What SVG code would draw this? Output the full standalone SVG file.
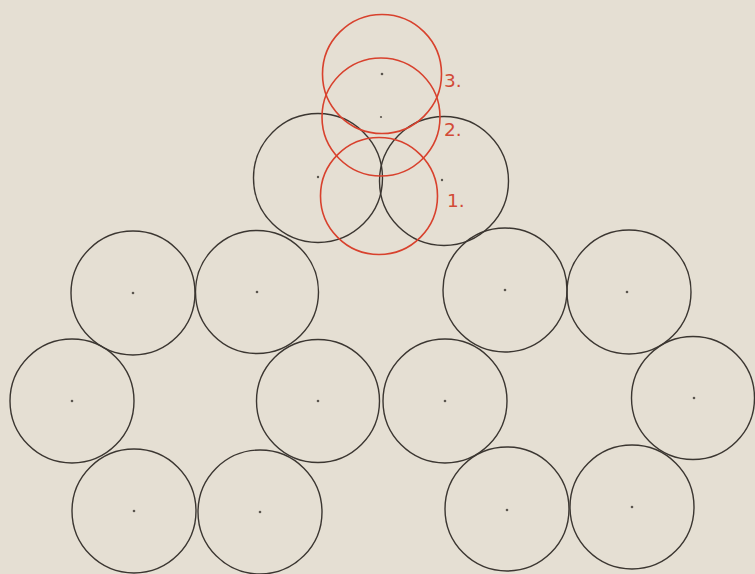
<svg xmlns="http://www.w3.org/2000/svg" width="755" height="574" viewBox="0 0 755 574">
<style>
.bk{fill:none;stroke:#3b3631;stroke-width:1.4}
.rd{fill:none;stroke:#d8412d;stroke-width:1.6}
.dot{fill:#5a554e}
.lbl{font-family:"DejaVu Sans","Liberation Sans",sans-serif;font-size:18.5px;fill:#d24a37}
</style>
<rect width="755" height="574" fill="#e5dfd3"/>
<g id="left-group">
<g id="L1"><circle class="bk" cx="133" cy="293" r="62"/><circle class="dot" cx="133" cy="293" r="1.3"/></g>
<g id="L2"><circle class="bk" cx="257" cy="292" r="61.5"/><circle class="dot" cx="257" cy="292" r="1.3"/></g>
<g id="L3"><circle class="bk" cx="72" cy="401" r="62"/><circle class="dot" cx="72" cy="401" r="1.3"/></g>
<g id="L4"><circle class="bk" cx="318" cy="401" r="61.5"/><circle class="dot" cx="318" cy="401" r="1.3"/></g>
<g id="L5"><circle class="bk" cx="134" cy="511" r="62"/><circle class="dot" cx="134" cy="511" r="1.3"/></g>
<g id="L6"><circle class="bk" cx="260" cy="512" r="62"/><circle class="dot" cx="260" cy="512" r="1.3"/></g>
</g>
<g id="right-group">
<g id="R1"><circle class="bk" cx="505" cy="290" r="62"/><circle class="dot" cx="505" cy="290" r="1.3"/></g>
<g id="R2"><circle class="bk" cx="629" cy="292" r="62"/><circle class="dot" cx="627" cy="292" r="1.3"/></g>
<g id="R3"><circle class="bk" cx="445" cy="401" r="62"/><circle class="dot" cx="445" cy="401" r="1.3"/></g>
<g id="R4"><circle class="bk" cx="693" cy="398" r="61.5"/><circle class="dot" cx="694" cy="398" r="1.3"/></g>
<g id="R5"><circle class="bk" cx="507" cy="509" r="62"/><circle class="dot" cx="507" cy="510" r="1.3"/></g>
<g id="R6"><circle class="bk" cx="632" cy="507" r="62"/><circle class="dot" cx="632" cy="507" r="1.3"/></g>
</g>
<g id="top-black">
<g id="TL"><circle class="bk" cx="318" cy="178" r="64.5"/><circle class="dot" cx="318" cy="177" r="1.2"/></g>
<g id="TR"><circle class="bk" cx="444" cy="181" r="64.5"/><circle class="dot" cx="442" cy="180" r="1.2"/></g>
</g>
<g id="red">
<g id="C3"><circle class="rd" cx="382" cy="74" r="59.5"/><circle class="dot" cx="382" cy="74" r="1.3"/><text class="lbl" x="444" y="87">3.</text></g>
<g id="C2"><circle class="rd" cx="381" cy="117" r="59"/><circle class="dot" cx="381" cy="117" r="1.1"/><text class="lbl" x="444" y="136">2.</text></g>
<g id="C1"><circle class="rd" cx="379" cy="196" r="58.5"/><text class="lbl" x="447" y="207">1.</text></g>
</g>
</svg>
